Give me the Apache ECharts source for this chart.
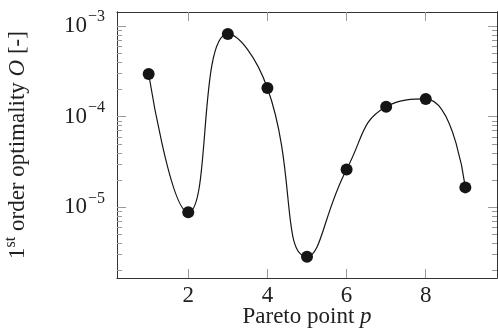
<!DOCTYPE html>
<html>
<head>
<meta charset="utf-8">
<script src="https://cdn.jsdelivr.net/npm/echarts@6/dist/echarts.min.js"></script>
<style>
  html, body { margin: 0; padding: 0; background: #fff; }
  #chart { width: 498px; height: 332px; }
</style>
</head>
<body>
<div id="chart"></div>
<script>
// values
const paretoPoints = [1, 2, 3, 4, 5, 6, 7, 8, 9];
const optimality = [2.96e-4, 8.8e-6, 8.2e-4, 2.07e-4, 2.85e-6, 2.62e-5, 1.29e-4, 1.57e-4, 1.66e-5];
const xTicks = [2, 4, 6, 8];
const yMajorTicks = [1e-5, 1e-4, 1e-3];
const yMinorTicks = [2e-6, 3e-6, 4e-6, 5e-6, 6e-6, 7e-6, 8e-6, 9e-6,
  2e-5, 3e-5, 4e-5, 5e-5, 6e-5, 7e-5, 8e-5, 9e-5,
  2e-4, 3e-4, 4e-4, 5e-4, 6e-4, 7e-4, 8e-4, 9e-4];

const FONT = 'Liberation Serif';
const X_MIN = 0.2, X_MAX = 9.8;
const Y_MIN = 1.66e-6, Y_MAX = 1.43e-3;

const chart = echarts.init(document.getElementById('chart'));

function xAx(pos, withLabels) {
  return {
    type: 'value', position: pos, min: X_MIN, max: X_MAX,
    axisLine: { show: true, onZero: false, lineStyle: { color: '#333', width: 1 } },
    axisTick: { show: true, inside: true, length: 9, customValues: xTicks, lineStyle: { color: '#999' } },
    axisLabel: withLabels ? { show: true, customValues: xTicks, margin: 6, fontFamily: FONT, fontSize: 23, color: '#222' } : { show: false },
    splitLine: { show: false },
    name: withLabels ? 'Pareto point {i|p}' : '',
    nameLocation: 'middle', nameGap: 27, nameMoveOverlap: false,
    nameTextStyle: {
      fontFamily: FONT, fontSize: 23, color: '#222',
      rich: { i: { fontFamily: FONT, fontSize: 23, fontStyle: 'italic', color: '#222' } }
    }
  };
}

function yAx(pos, ticks, len, withLabels) {
  return {
    type: 'log', logBase: 10, position: pos, min: Y_MIN, max: Y_MAX,
    axisLine: { show: true, lineStyle: { color: '#333', width: 1 } },
    axisTick: { show: true, inside: true, length: len, customValues: ticks, lineStyle: { color: '#999' } },
    axisLabel: withLabels ? {
      show: true, customValues: yMajorTicks, margin: 12,
      formatter: v => '{b|10}{e|\u2212' + Math.round(-Math.log10(v)) + '}',
      rich: {
        b: { fontFamily: FONT, fontSize: 23, color: '#222' },
        e: { fontFamily: FONT, fontSize: 16, color: '#222', padding: [0, 0, 18, 1] }
      }
    } : { show: false },
    splitLine: { show: false },
    name: withLabels ? '1{s|st} order optimality {i|O} [-]' : '',
    nameLocation: 'middle', nameGap: 84, nameMoveOverlap: false,
    nameTextStyle: {
      fontFamily: FONT, fontSize: 23, color: '#222',
      rich: {
        s: { fontFamily: FONT, fontSize: 16, color: '#222', padding: [0, 0, 14, 0] },
        i: { fontFamily: FONT, fontSize: 23, fontStyle: 'italic', color: '#222' }
      }
    }
  };
}

chart.setOption({
  backgroundColor: '#fff',
  animation: false,
  grid: { left: 117, right: 1, top: 12, bottom: 54, containLabel: false, outerBoundsMode: 'none' },
  xAxis: [xAx('bottom', true), xAx('top', false)],
  yAxis: [
    yAx('left', yMajorTicks, 9, true),
    yAx('left', yMinorTicks, 5, false),
    yAx('right', yMajorTicks, 9, false),
    yAx('right', yMinorTicks, 5, false)
  ],
  series: [{
    type: 'line',
    xAxisIndex: 0, yAxisIndex: 0,
    data: paretoPoints.map((p, i) => [p, optimality[i]]),
    smooth: 0.5,
    symbol: 'circle', symbolSize: 12,
    itemStyle: { color: '#151515' },
    lineStyle: { color: '#151515', width: 1.2 }
  }]
});
</script>
</body>
</html>
